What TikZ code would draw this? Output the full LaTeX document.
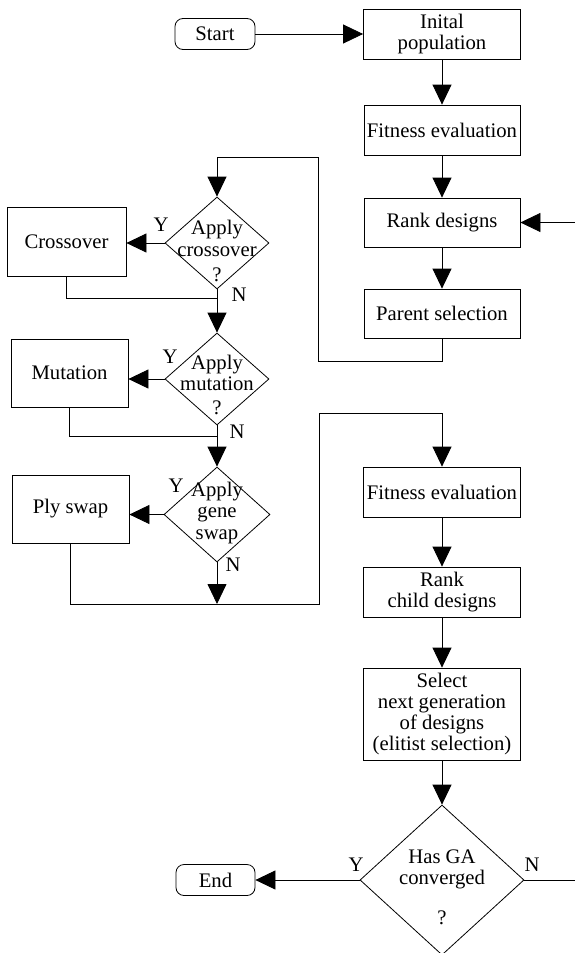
\documentclass[tikz,border=0pt]{standalone}
\usepackage{fontspec}
\setmainfont{Liberation Serif}
\usetikzlibrary{arrows.meta,shapes.geometric}
\begin{document}
\begin{tikzpicture}[x=1pt,y=-1pt,
  every node/.style={font=\fontsize{20.7}{21.3}\selectfont},
  box/.style={draw, line width=0.8pt, inner sep=0pt, align=center},
  term/.style={box, rounded corners=8pt},
  dia/.style={draw, diamond, line width=0.8pt, inner sep=0pt},
  lbl/.style={inner sep=0pt, align=center},
  conn/.style={line width=0.8pt},
  arr/.style={conn, -{Triangle[length=20pt,width=19pt]}},
]
\useasboundingbox (0,0) rectangle (575,953);

% right column
\node[term, minimum width=80pt, minimum height=31pt] (start) at (215,34) {Start};
\node[box, minimum width=157pt, minimum height=50pt] (init) at (442,34) {Inital\\population};
\node[box, minimum width=156pt, minimum height=50pt] (fit1) at (442,130) {Fitness evaluation};
\node[box, minimum width=156pt, minimum height=49pt] (rank) at (442,222.5) {Rank designs};
\node[box, minimum width=156pt, minimum height=49pt] (parent) at (442,313.5) {Parent selection};

% left column
\node[box, minimum width=119pt, minimum height=69pt] (cross) at (66.5,241.5) {Crossover};
\node[dia, minimum width=104pt, minimum height=92pt] (d1) at (217,243) {};
\node[lbl] (d1t) at (217,251) {Apply\\crossover\\[4pt]?};

\node[box, minimum width=117pt, minimum height=68pt] (mut) at (69.5,373) {Mutation};
\node[dia, minimum width=104pt, minimum height=92pt] (d2) at (217,379) {};
\node[lbl] (d2t) at (217,385) {Apply\\mutation\\[3pt]?};

\node[box, minimum width=117pt, minimum height=68pt] (ply) at (70.5,509) {Ply swap};
\node[dia, minimum width=106pt, minimum height=95pt] (d3) at (217,514.5) {};
\node[lbl] (d3t) at (217,513) {Apply\\gene\\swap};

% lower right column
\node[box, minimum width=157pt, minimum height=50pt] (fit2) at (442,492) {Fitness evaluation};
\node[box, minimum width=157pt, minimum height=50pt] (rankc) at (442,592) {Rank\\child designs};
\node[box, minimum width=157pt, minimum height=92pt] (sel) at (442,714) {Select\\next generation\\of designs\\(elitist selection)};
\node[dia, minimum width=164pt, minimum height=150pt] (d4) at (442,880) {};
\node[lbl] (d4t) at (442,887) {Has GA\\converged\\[18pt]?};
\node[term, minimum width=79pt, minimum height=31pt] (end) at (215.5,880) {End};

% Y / N labels
\node[lbl] (y1) at (161,225) {Y};
\node[lbl] (n1) at (239,295) {N};
\node[lbl] (y2) at (170,357) {Y};
\node[lbl] (n2) at (237,432) {N};
\node[lbl] (y3) at (176,486) {Y};
\node[lbl] (n3) at (233,565) {N};
\node[lbl] (y4) at (356,865) {Y};
\node[lbl] (n4) at (532,865) {N};

% helper coordinates
\coordinate (rin) at (575,222.5);
\coordinate (nout) at (575,880);
\coordinate (j1) at (217,298);
\coordinate (j2) at (217,436);
\coordinate (j3) at (217,604);
\coordinate (loopA) at (318,157);
\coordinate (loopB) at (319,604);
\coordinate (top2) at (442,413);

% connectors
\draw[arr] (start) -- (init);
\draw[arr] (init) -- (fit1);
\draw[arr] (fit1) -- (rank);
\draw[arr] (rank) -- (parent);
\draw[arr] (rin) -- (rank);
\draw[arr] (parent.south) -- ++(0,23) -| (loopA) -| (d1.north);

\draw[arr] (d1.west) -- (cross.east |- d1.west);
\draw[conn] (cross.south) |- (j1);
\draw[arr] (d1.south) -- (d2.north);

\draw[arr] (d2.west) -- (mut.east |- d2.west);
\draw[conn] (mut.south) |- (j2);
\draw[arr] (d2.south) -- (d3.north);

\draw[arr] (d3.west) -- (ply.east |- d3.west);
\draw[arr] (d3.south) -- (j3);
\draw[arr] (ply.south) |- (loopB) |- (top2) -- (fit2.north);

\draw[arr] (fit2) -- (rankc);
\draw[arr] (rankc) -- (sel);
\draw[arr] (sel) -- (d4);
\draw[arr] (d4) -- (end);
\draw[conn] (d4.east) -- (nout);
\end{tikzpicture}
\end{document}
